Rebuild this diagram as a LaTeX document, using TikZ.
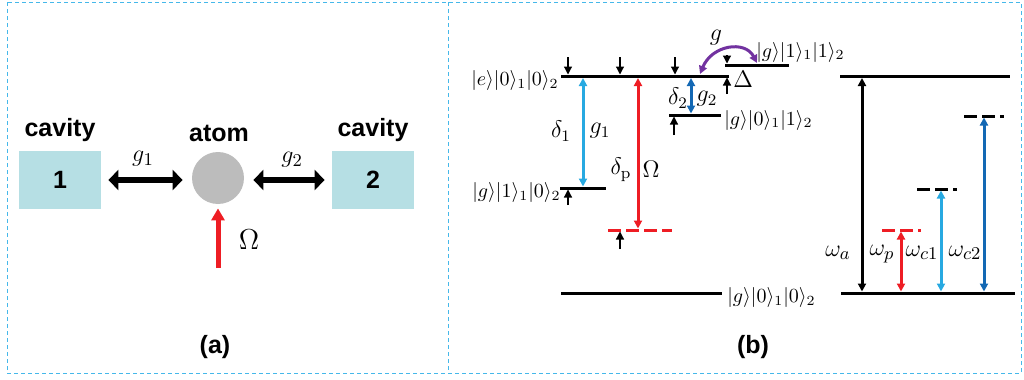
\documentclass[tikz,border=0pt]{standalone}
\usepackage{amsmath}
\usepackage{fontspec}
\newfontfamily\arialsf{Liberation Sans}
\usepackage{xcolor}
\usetikzlibrary{arrows.meta,positioning,calc}
\definecolor{frm}{HTML}{45B8EA}
\definecolor{cavbg}{HTML}{B6DFE4}
\definecolor{atm}{HTML}{BCBCBC}
\definecolor{pmp}{HTML}{EE1D24}
\definecolor{cvone}{HTML}{27A9E1}
\definecolor{cvtwo}{HTML}{1368B4}
\definecolor{cpl}{HTML}{7232A0}
\tikzset{
  pnlframe/.style={draw=frm, line width=0.5pt, dash pattern=on 2pt off 1.5pt},
  sflab/.style   ={font=\arialsf\bfseries\fontsize{12.5}{14}\selectfont, inner sep=0pt},
  cavbox/.style  ={sflab, fill=cavbg, minimum width=41pt, minimum height=29pt},
  atombox/.style ={circle, fill=atm, minimum size=26pt, inner sep=0pt},
  mlab/.style    ={inner sep=0pt, font=\fontsize{10}{12}\selectfont},
  mlabm/.style   ={inner sep=0pt, font=\fontsize{11.5}{13}\selectfont},
  mlabl/.style   ={inner sep=0pt, font=\fontsize{12.5}{15}\selectfont},
  bigar/.style   ={{Triangle[length=5pt,width=10pt]}-{Triangle[length=5pt,width=10pt]}, line width=3.2pt},
  pumpar/.style  ={-{Triangle[length=6pt,width=6.5pt]}, line width=2.5pt, draw=pmp},
  lvl/.style     ={line width=1.5pt},
  dlvl/.style    ={lvl, dash pattern=on 6.5pt off 2.5pt},
  tk/.style      ={-{Triangle[length=4pt,width=4pt]}, line width=0.6pt},
  tr/.style      ={{Triangle[length=4pt,width=4pt]}-{Triangle[length=4pt,width=4pt]}, line width=1.5pt},
}
\begin{document}
\begin{tikzpicture}[x=0.5pt,y=-0.5pt]
\useasboundingbox (0,0) rectangle (1024,380);
\draw[pnlframe] (7,2) rectangle (1021,373);
\draw[pnlframe] (448,2) -- (448,373);

\node[cavbox] (cavA) at (60,180) {1};
\node[cavbox] (cavB) at (373,180) {2};
\node[atombox] (atom) at (218,178) {};
\node[sflab] (cavAl) at (60,130) {cavity};
\node[sflab] (cavBl) at (373,130) {cavity};
\node[sflab] (atoml) at (219,133) {atom};
\draw[bigar, shorten <=3.5pt, shorten >=4.5pt] (cavA.east) -- (cavA.east -| atom.west);
\draw[bigar, shorten <=4.5pt, shorten >=3.5pt] (cavB.west -| atom.east) -- (cavB.west);
\node[mlabl] (gAl) at (143,159) {$g_1$};
\node[mlabl] (gBl) at (292,160) {$g_2$};
\coordinate (omsrc) at (218,268);
\draw[pumpar, shorten >=2pt] (omsrc) -- (atom.south);
\node[mlabl, font=\fontsize{13.5}{15}\selectfont] (oml) at (249,240) {$\Omega$};
\node[sflab] (pa) at (215,347) {(a)};

\coordinate (eL) at (561,76);   \coordinate (eR) at (729,76);
\coordinate (ggL) at (725,65);  \coordinate (ggR) at (789,65);
\coordinate (gbL) at (669,115); \coordinate (gbR) at (721,115);
\coordinate (gaL) at (560,188); \coordinate (gaR) at (606,188);
\coordinate (vpL) at (608,230); \coordinate (vpR) at (672,230);
\coordinate (g0L) at (561,293); \coordinate (g0R) at (722,293);
\draw[lvl] (eL) -- (eR);
\draw[lvl] (ggL) -- (ggR);
\draw[lvl] (gbL) -- (gbR);
\draw[lvl] (gaL) -- (gaR);
\draw[dlvl, draw=pmp] (vpL) -- (vpR);
\draw[lvl] (g0L) -- (g0R);
\node[mlab, anchor=base east] (eLab) at (559,85) {$|e\rangle|0\rangle_1|0\rangle_2$};
\node[mlab, anchor=base west] (ggLab) at (756,57) {$|g\rangle|1\rangle_1|1\rangle_2$};
\node[mlab, anchor=base west] (gbLab) at (724,125) {$|g\rangle|0\rangle_1|1\rangle_2$};
\node[mlab, anchor=base east] (gaLab) at (561,197) {$|g\rangle|1\rangle_1|0\rangle_2$};
\node[mlab, anchor=base west] (g0Lab) at (727,302) {$|g\rangle|0\rangle_1|0\rangle_2$};

\foreach \xx in {568,620,675}
  \draw[tk] (\xx,57) -- (\xx,74.5);
\coordinate (dlt) at (727,55);  \coordinate (dlb) at (727,63.5);
\coordinate (dut) at (727,77.5); \coordinate (dub) at (727,94);
\draw[tk] (dlt) -- (dlb);
\draw[tk] (dub) -- (dut);
\node[mlabm, anchor=west] (dLab) at (733,79) {$\Delta$};
\coordinate (t2t) at (674,116.5); \coordinate (t2b) at (674,135);
\coordinate (t1t) at (568,189.5); \coordinate (t1b) at (568,205);
\coordinate (tpt) at (620,231.5); \coordinate (tpb) at (620,249);
\draw[tk] (t2b) -- (t2t);
\draw[tk] (t1b) -- (t1t);
\draw[tk] (tpb) -- (tpt);

\coordinate (c1t) at (583,78);  \coordinate (c1b) at (583,186.5);
\coordinate (c2t) at (691,78);  \coordinate (c2b) at (691,113.5);
\coordinate (pt) at (638,78);   \coordinate (pb) at (638,228.5);
\draw[tr, draw=cvone] (c1t) -- (c1b);
\draw[tr, draw=cvtwo] (c2t) -- (c2b);
\draw[tr, draw=pmp] (pt) -- (pb);
\node[mlabm] (d1Lab) at (561,131) {$\delta_1$};
\node[mlabm] (c1Lab) at (600,131) {$g_1$};
\node[mlabm] (d2Lab) at (678,98) {$\delta_2$};
\node[mlabm] (c2Lab) at (707,99) {$g_2$};
\node[mlabm] (dpLab) at (621,170) {$\delta_{\mathrm{p}}$};
\node[mlabm] (pLab) at (651,169) {$\Omega$};
\coordinate (cpa) at (700,74);  \coordinate (cpb) at (757,63);
\draw[tr, draw=cpl] (cpa) .. controls (712,45) and (745,40) .. (cpb);
\node[mlabm] (cpLab) at (716,38) {$g$};
\node[sflab] (pbl) at (753,347) {(b)};

\coordinate (wtL) at (840,76);  \coordinate (wtR) at (1010,76);
\coordinate (wbL) at (841,293); \coordinate (wbR) at (1015,293);
\coordinate (wpL) at (882,230); \coordinate (wpR) at (921,230);
\coordinate (w1L) at (917,189); \coordinate (w1R) at (957,189);
\coordinate (w2L) at (964,116); \coordinate (w2R) at (1004,116);
\draw[lvl] (wtL) -- (wtR);
\draw[lvl] (wbL) -- (wbR);
\draw[dlvl, draw=pmp] (wpL) -- (wpR);
\draw[dlvl] (w1L) -- (w1R);
\draw[dlvl] (w2L) -- (w2R);
\coordinate (wat) at (862,78);  \coordinate (wab) at (862,291.5);
\coordinate (wppt) at (901,231.5); \coordinate (wppb) at (901,291.5);
\coordinate (w1t) at (941,190.5); \coordinate (w1b) at (941,291.5);
\coordinate (w2t) at (984,117.5); \coordinate (w2b) at (984,291.5);
\draw[tr] (wat) -- (wab);
\draw[tr, draw=pmp] (wppt) -- (wppb);
\draw[tr, draw=cvone] (w1t) -- (w1b);
\draw[tr, draw=cvtwo] (w2t) -- (w2b);
\node[mlabl] (waLab) at (838,253) {$\omega_a$};
\node[mlabl] (wpLab) at (882,254) {$\omega_p$};
\node[mlabl] (w1Lab) at (922,253) {$\omega_{c1}$};
\node[mlabl] (w2Lab) at (965,253) {$\omega_{c2}$};
\end{tikzpicture}
\end{document}
